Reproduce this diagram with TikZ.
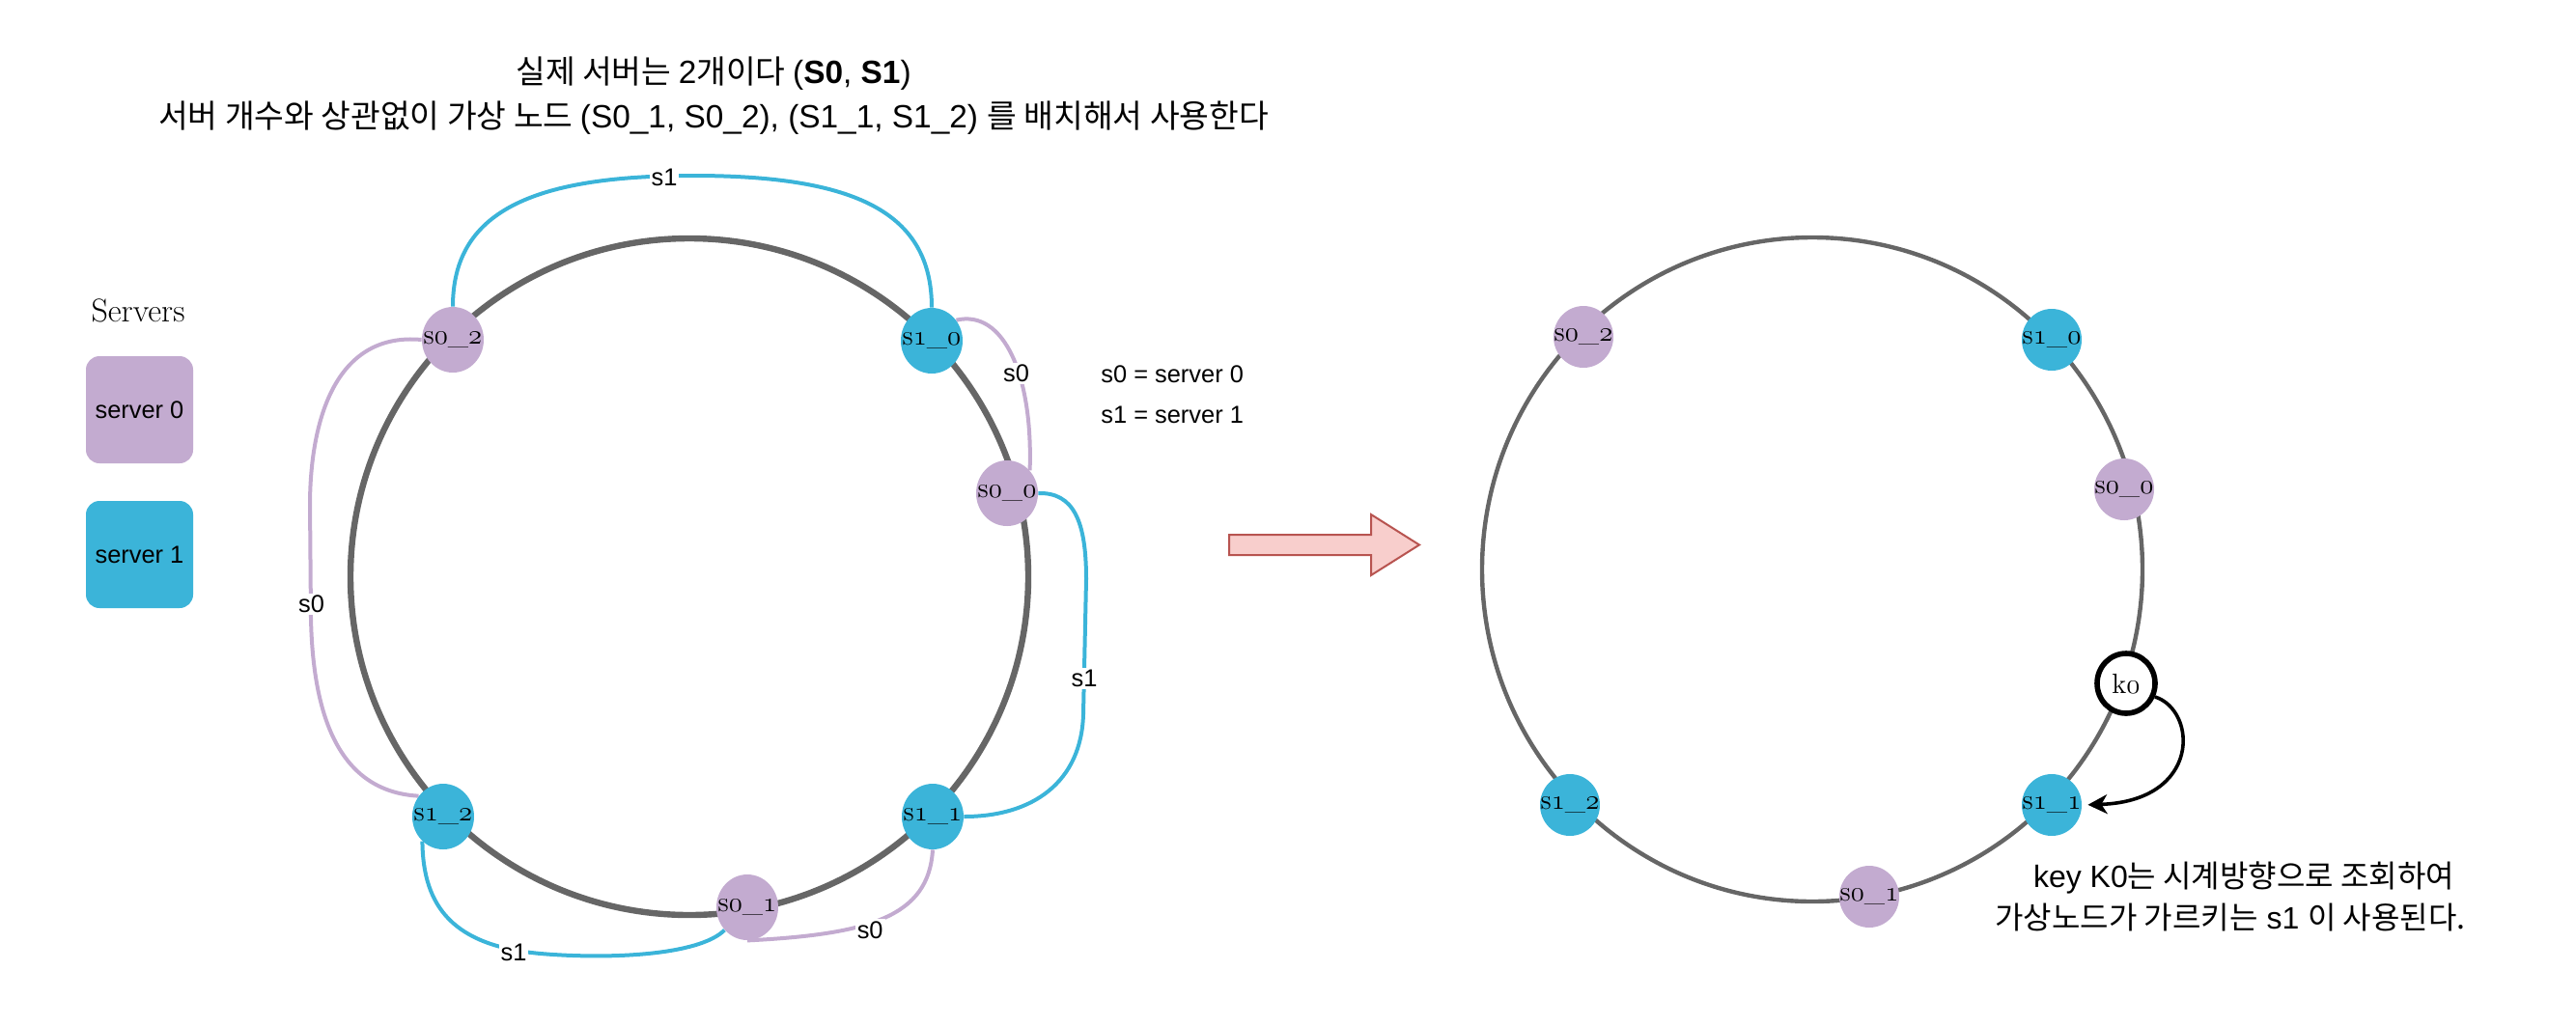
\documentclass[tikz,border=0pt]{standalone}
\usepackage{fontspec}
\usetikzlibrary{shapes.geometric,arrows.meta,backgrounds}
\newfontfamily\hv{Liberation Sans}
\newfontfamily\kr{Noto Sans CJK KR}
\newcommand\osn[1]{{\usefont{OML}{cmm}{m}{it}#1}}
\definecolor{vpurple}{HTML}{C3ABD0}
\definecolor{vblue}{HTML}{3BB4D9}
\definecolor{ringgrey}{HTML}{666666}
\definecolor{arrfill}{HTML}{F8CECC}
\definecolor{arrline}{HTML}{B85450}
\begin{document}
\begin{tikzpicture}[x=1pt,y=-1pt,
  vnode/.style={ellipse, minimum width=32pt, minimum height=34pt, inner xsep=-6pt, inner ysep=0pt, font=\fontsize{14.5}{16}\selectfont},
  pnode/.style={vnode, fill=vpurple},
  bnode/.style={vnode, fill=vblue},
  rpnode/.style={pnode, minimum width=31pt, minimum height=32pt},
  rbnode/.style={bnode, minimum width=31pt, minimum height=32pt},
  keynode/.style={vnode, draw=black, line width=2.8pt, fill=white, minimum width=30pt, minimum height=31pt},
  bline/.style={draw=vblue, line width=2pt},
  pline/.style={draw=vpurple, line width=2pt},
  lbl/.style={fill=white, inner sep=1pt, font=\hv\fontsize{12.7}{15}\selectfont},
  txt/.style={font=\hv\fontsize{12.7}{15}\selectfont, inner sep=0pt},
  ttl/.style={font=\hv\fontsize{16.7}{19}\selectfont, inner sep=0pt},
  note/.style={font=\hv\fontsize{16}{18}\selectfont, inner sep=0pt},
  srvbox/.style={rounded corners=7pt, minimum width=55.5pt, minimum height=55.5pt, inner sep=0pt, font=\hv\fontsize{12.7}{15}\selectfont},
  ringL/.style={draw=ringgrey, line width=3.2pt},
  ringR/.style={draw=ringgrey, line width=2.2pt}
]
\useasboundingbox (0,0) rectangle (1334,531);

% titles
\node[ttl] (t1) at (369.5,38.3) {{\kr 실제 서버는 }2{\kr 개이다 }(\textbf{S0}, \textbf{S1})};
\node[ttl] (t2) at (369.5,61.3) {{\kr 서버 개수와 상관없이 가상 노드 }(S0\_1, S0\_2), (S1\_1, S1\_2) {\kr 를 배치해서 사용한다}};

% legend
\node[font=\fontsize{17}{19}\selectfont, inner sep=0pt] (srvt) at (71.5,161) {Servers};
\node[srvbox, fill=vpurple] (srv0) at (72.25,212.25) {server 0};
\node[srvbox, fill=vblue] (srv1) at (72.25,287.25) {server 1};

\node[txt, anchor=west] (k1) at (570,194) {s0 = server 0};
\node[txt, anchor=west] (k2) at (570,215) {s1 = server 1};

% left ring nodes
\node[pnode] (s02) at (234.5,176) {s\osn{0}\_\osn{2}};
\node[bnode] (s10) at (482.5,176.5) {s\osn{1}\_\osn{0}};
\node[pnode] (s00) at (521.5,255.5) {s\osn{0}\_\osn{0}};
\node[bnode] (s11) at (483,423) {s\osn{1}\_\osn{1}};
\node[pnode] (s01) at (387,470) {s\osn{0}\_\osn{1}};
\node[bnode] (s12) at (229.5,423) {s\osn{1}\_\osn{2}};

% right ring nodes
\node[rpnode] (r02) at (820,174.5) {s\osn{0}\_\osn{2}};
\node[rbnode] (r10) at (1062.5,176) {s\osn{1}\_\osn{0}};
\node[rpnode] (r00) at (1100,253.5) {s\osn{0}\_\osn{0}};
\node[keynode] (k0) at (1101,354) {k\osn{0}};
\node[rbnode] (r11) at (1062.5,417) {s\osn{1}\_\osn{1}};
\node[rpnode] (r01) at (968,464.5) {s\osn{0}\_\osn{1}};
\node[rbnode] (r12) at (813,417) {s\osn{1}\_\osn{2}};

\begin{scope}[on background layer]
  \draw[ringL] (357,298.75) ellipse [x radius=175.5, y radius=175.25];
  \draw[ringR] (938.5,295) ellipse [x radius=171, y radius=172];
  % connectors
  \draw[bline] (s02.north) .. controls (234.5,110) and (275,91) .. (359,91)
               .. controls (443,91) and (482.5,110) .. (s10.north);
  \draw[pline] (s10.40) .. controls (520,160) and (535,195) .. (s00.45);
  \draw[bline] (s00.east) .. controls (556,255) and (562.5,270) .. (562.5,300)
               -- (561,370) .. controls (560,405) and (535,423) .. (s11.east);
  \draw[pline] (s02.west) .. controls (175,172) and (161,215) .. (160.5,260)
               -- (161,320) .. controls (162,370) and (175,410) .. (s12.140);
  \draw[bline] (s12.230) .. controls (219,470) and (235,490) .. (280,494)
               .. controls (315,497) and (362,495) .. (s01.225);
  \draw[pline] (s11.south) .. controls (481,475) and (450,484) .. (s01.south);
\end{scope}

% connector labels
\node[lbl] (l1) at (344,92) {s1};
\node[lbl] (l2) at (526.3,193.4) {s0};
\node[lbl] (l3) at (561.5,351.4) {s1};
\node[lbl] (l4) at (161.3,313) {s0};
\node[lbl] (l5) at (266,493.3) {s1};
\node[lbl] (l6) at (450.6,481.7) {s0};

% big arrow
\draw[fill=arrfill, draw=arrline, line width=1pt]
  (636.5,277) -- (710,277) -- (710,266.5) -- (735,282.25) -- (710,298) -- (710,287.5) -- (636.5,287.5) -- cycle;

% key arrow
\draw[line width=1.8pt, -{Stealth[length=10pt,width=10pt,inset=3pt]}, shorten >=3pt]
  (k0.-25) .. controls (1138,368) and (1140,415) .. (r11.east);

% note
\node[note] (n1) at (1162,454.5) {key K0{\kr 는 시계방향으로 조회하여}};
\node[note] (n2) at (1155,475.5) {{\kr 가상노드가 가르키는} s1 {\kr 이 사용된다.}};
\end{tikzpicture}
\end{document}
